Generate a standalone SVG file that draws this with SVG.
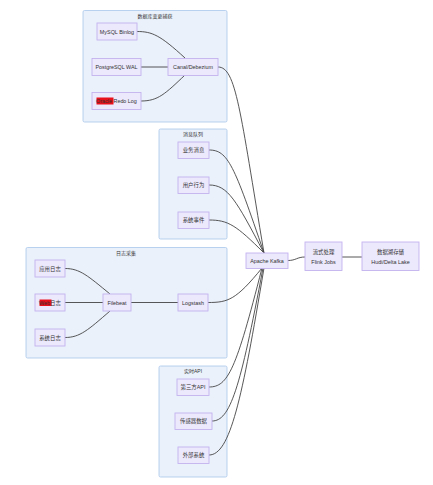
<svg xmlns="http://www.w3.org/2000/svg" width="433" height="485" viewBox="0 0 433 485">
<style>
.bg{fill:#ffffff}
.cl rect{fill:#eaf1fb;stroke:#a8c7ea;stroke-width:0.8}
.cl text{font-family:"Liberation Sans","Noto Sans CJK SC",sans-serif;font-size:5px;fill:#333;text-anchor:middle}
.nd rect{fill:#ece9fc;stroke:#c4b2ef;stroke-width:0.9}
.nd text{font-family:"Liberation Sans","Noto Sans CJK SC",sans-serif;font-size:5.4px;fill:#333;text-anchor:middle;dominant-baseline:central}
.nd rect.hl{fill:#e8101a;stroke:none}
#edges path{fill:none;stroke:#444;stroke-width:0.9}
</style>
<rect class="bg" width="433" height="485"/>
<g id="clusters">
<g id="c_db" class="cl"><rect x="83" y="10.5" width="144" height="111.5" rx="1.5"/><text x="155" y="18">数据库变更捕获</text></g>
<g id="c_mq" class="cl"><rect x="159" y="129" width="68" height="110" rx="1.5"/><text x="193" y="136">消息队列</text></g>
<g id="c_log" class="cl"><rect x="26" y="247.5" width="201" height="110.5" rx="1.5"/><text x="126" y="255">日志采集</text></g>
<g id="c_api" class="cl"><rect x="159" y="366" width="68" height="111" rx="1.5"/><text x="193" y="373">实时API</text></g>
</g>
<g id="edges">
<path d="M137,31.5 C152,31.5 160,35 185,58"/>
<path d="M141,67 L168,67"/>
<path d="M141,101 C158,101 165,94 185,75"/>
<path d="M218,67 C236,67 240,110 264,253"/>
<path d="M209,150 C228,150 234,165 264,253"/>
<path d="M209,185 C228,185 236,200 264,253"/>
<path d="M209,220 C228,220 236,225 264,253"/>
<path d="M65,268.5 C80,268.5 88,276 110,294"/>
<path d="M65,302.5 L103,302.5"/>
<path d="M65,337.5 C80,337.5 88,330 110,311"/>
<path d="M131,302.5 L178,302.5"/>
<path d="M208,302.5 C228,302.5 236,300 262,268"/>
<path d="M209,387 C228,387 236,370 262,268"/>
<path d="M212,421 C230,421 240,390 263,268"/>
<path d="M209,455 C230,455 242,400 264,268"/>
<path d="M288,260.5 C296,260.5 297,257 305,257"/>
<path d="M342,257 L362,257"/>
</g>
<g id="n_mysql" class="nd"><rect x="97" y="23" width="40" height="17"/><text x="117" y="31.5">MySQL Binlog</text></g>
<g id="n_pg" class="nd"><rect x="92" y="58.5" width="49" height="17"/><text x="116.5" y="67">PostgreSQL WAL</text></g>
<g id="n_oracle" class="nd"><rect x="92" y="92.5" width="49" height="17"/><rect class="hl" x="96.5" y="97.5" width="17" height="7"/><text x="116.5" y="101">Oracle Redo Log</text></g>
<g id="n_canal" class="nd"><rect x="168" y="58.5" width="50" height="17"/><text x="193" y="67">Canal/Debezium</text></g>
<g id="n_biz" class="nd"><rect x="178" y="142" width="31" height="16.5"/><text x="193.5" y="150.2">业务消息</text></g>
<g id="n_user" class="nd"><rect x="178" y="177" width="31" height="16.5"/><text x="193.5" y="185.2">用户行为</text></g>
<g id="n_sys" class="nd"><rect x="178" y="212" width="31" height="16.5"/><text x="193.5" y="220.2">系统事件</text></g>
<g id="n_applog" class="nd"><rect x="35" y="260" width="30" height="17"/><text x="50" y="268.5">应用日志</text></g>
<g id="n_weblog" class="nd"><rect x="35" y="294" width="30" height="17"/><rect class="hl" x="39.5" y="299.5" width="12" height="6.5"/><text x="50" y="302.5">Web日志</text></g>
<g id="n_syslog" class="nd"><rect x="35" y="329" width="30" height="17"/><text x="50" y="337.5">系统日志</text></g>
<g id="n_filebeat" class="nd"><rect x="103" y="294" width="28" height="17"/><text x="117" y="302.5">Filebeat</text></g>
<g id="n_logstash" class="nd"><rect x="178" y="294" width="30" height="17"/><text x="193" y="302.5">Logstash</text></g>
<g id="n_3rd" class="nd"><rect x="177" y="379" width="32" height="16.5"/><text x="193" y="387.2">第三方API</text></g>
<g id="n_sensor" class="nd"><rect x="175" y="413" width="37" height="16.5"/><text x="193.5" y="421.2">传感器数据</text></g>
<g id="n_ext" class="nd"><rect x="178" y="447" width="31" height="16.5"/><text x="193.5" y="455.2">外部系统</text></g>
<g id="n_kafka" class="nd"><rect x="246" y="253" width="42" height="15.5"/><text x="267" y="260.8">Apache Kafka</text></g>
<g id="n_flink" class="nd"><rect x="305" y="242" width="37" height="28.5"/><text x="323.5" y="251.5">流式处理</text><text x="323.5" y="261.5">Flink Jobs</text></g>
<g id="n_lake" class="nd"><rect x="362" y="242" width="57" height="28.5"/><text x="390.5" y="251.5">数据湖存储</text><text x="390.5" y="261.5">Hudi/Delta Lake</text></g>
</svg>
